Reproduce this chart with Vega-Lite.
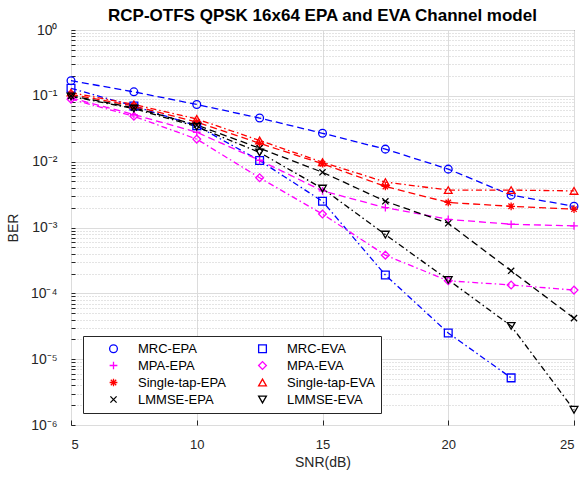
{
  "$schema": "https://vega.github.io/schema/vega-lite/v6.json",
  "autosize": "none",
  "width": 503,
  "height": 395,
  "padding": {"left": 71, "top": 30, "right": 7, "bottom": 52},
  "background": "white",
  "title": {
    "text": "RCP-OTFS QPSK 16x64 EPA and EVA Channel model",
    "font": "Liberation Sans",
    "fontSize": 17,
    "fontWeight": "bold",
    "color": "#000000",
    "anchor": "middle",
    "frame": "group",
    "offset": 7,
    "dy": 9
  },
  "data": {
    "values": [
      {"snr": 5, "ber": 0.17, "series": "MRC-EPA", "model": "EPA"},
      {"snr": 7.5, "ber": 0.115, "series": "MRC-EPA", "model": "EPA"},
      {"snr": 10, "ber": 0.074, "series": "MRC-EPA", "model": "EPA"},
      {"snr": 12.5, "ber": 0.046, "series": "MRC-EPA", "model": "EPA"},
      {"snr": 15, "ber": 0.027, "series": "MRC-EPA", "model": "EPA"},
      {"snr": 17.5, "ber": 0.0155, "series": "MRC-EPA", "model": "EPA"},
      {"snr": 20, "ber": 0.0077, "series": "MRC-EPA", "model": "EPA"},
      {"snr": 22.5, "ber": 0.0031, "series": "MRC-EPA", "model": "EPA"},
      {"snr": 25, "ber": 0.0021, "series": "MRC-EPA", "model": "EPA"},
      {"snr": 5, "ber": 0.13, "series": "MRC-EVA", "model": "EVA"},
      {"snr": 7.5, "ber": 0.07, "series": "MRC-EVA", "model": "EVA"},
      {"snr": 10, "ber": 0.035, "series": "MRC-EVA", "model": "EVA"},
      {"snr": 12.5, "ber": 0.0104, "series": "MRC-EVA", "model": "EVA"},
      {"snr": 15, "ber": 0.0025, "series": "MRC-EVA", "model": "EVA"},
      {"snr": 17.5, "ber": 0.00019, "series": "MRC-EVA", "model": "EVA"},
      {"snr": 20, "ber": 0.000025, "series": "MRC-EVA", "model": "EVA"},
      {"snr": 22.5, "ber": 0.0000052, "series": "MRC-EVA", "model": "EVA"},
      {"snr": 5, "ber": 0.093, "series": "MPA-EPA", "model": "EPA"},
      {"snr": 7.5, "ber": 0.052, "series": "MPA-EPA", "model": "EPA"},
      {"snr": 10, "ber": 0.028, "series": "MPA-EPA", "model": "EPA"},
      {"snr": 12.5, "ber": 0.0105, "series": "MPA-EPA", "model": "EPA"},
      {"snr": 15, "ber": 0.0036, "series": "MPA-EPA", "model": "EPA"},
      {"snr": 17.5, "ber": 0.002, "series": "MPA-EPA", "model": "EPA"},
      {"snr": 20, "ber": 0.00133, "series": "MPA-EPA", "model": "EPA"},
      {"snr": 22.5, "ber": 0.00112, "series": "MPA-EPA", "model": "EPA"},
      {"snr": 25, "ber": 0.00106, "series": "MPA-EPA", "model": "EPA"},
      {"snr": 5, "ber": 0.089, "series": "MPA-EVA", "model": "EVA"},
      {"snr": 7.5, "ber": 0.049, "series": "MPA-EVA", "model": "EVA"},
      {"snr": 10, "ber": 0.022, "series": "MPA-EVA", "model": "EVA"},
      {"snr": 12.5, "ber": 0.0057, "series": "MPA-EVA", "model": "EVA"},
      {"snr": 15, "ber": 0.0016, "series": "MPA-EVA", "model": "EVA"},
      {"snr": 17.5, "ber": 0.00038, "series": "MPA-EVA", "model": "EVA"},
      {"snr": 20, "ber": 0.000155, "series": "MPA-EVA", "model": "EVA"},
      {"snr": 22.5, "ber": 0.000134, "series": "MPA-EVA", "model": "EVA"},
      {"snr": 25, "ber": 0.000112, "series": "MPA-EVA", "model": "EVA"},
      {"snr": 5, "ber": 0.105, "series": "Single-tap-EPA", "model": "EPA"},
      {"snr": 7.5, "ber": 0.07, "series": "Single-tap-EPA", "model": "EPA"},
      {"snr": 10, "ber": 0.04, "series": "Single-tap-EPA", "model": "EPA"},
      {"snr": 12.5, "ber": 0.019, "series": "Single-tap-EPA", "model": "EPA"},
      {"snr": 15, "ber": 0.0093, "series": "Single-tap-EPA", "model": "EPA"},
      {"snr": 17.5, "ber": 0.0042, "series": "Single-tap-EPA", "model": "EPA"},
      {"snr": 20, "ber": 0.0024, "series": "Single-tap-EPA", "model": "EPA"},
      {"snr": 22.5, "ber": 0.0021, "series": "Single-tap-EPA", "model": "EPA"},
      {"snr": 25, "ber": 0.0019, "series": "Single-tap-EPA", "model": "EPA"},
      {"snr": 5, "ber": 0.112, "series": "Single-tap-EVA", "model": "EVA"},
      {"snr": 7.5, "ber": 0.074, "series": "Single-tap-EVA", "model": "EVA"},
      {"snr": 10, "ber": 0.0445, "series": "Single-tap-EVA", "model": "EVA"},
      {"snr": 12.5, "ber": 0.021, "series": "Single-tap-EVA", "model": "EVA"},
      {"snr": 15, "ber": 0.0098, "series": "Single-tap-EVA", "model": "EVA"},
      {"snr": 17.5, "ber": 0.0049, "series": "Single-tap-EVA", "model": "EVA"},
      {"snr": 20, "ber": 0.0037, "series": "Single-tap-EVA", "model": "EVA"},
      {"snr": 22.5, "ber": 0.0037, "series": "Single-tap-EVA", "model": "EVA"},
      {"snr": 25, "ber": 0.0036, "series": "Single-tap-EVA", "model": "EVA"},
      {"snr": 5, "ber": 0.1, "series": "LMMSE-EPA", "model": "EPA"},
      {"snr": 7.5, "ber": 0.066, "series": "LMMSE-EPA", "model": "EPA"},
      {"snr": 10, "ber": 0.036, "series": "LMMSE-EPA", "model": "EPA"},
      {"snr": 12.5, "ber": 0.016, "series": "LMMSE-EPA", "model": "EPA"},
      {"snr": 15, "ber": 0.0069, "series": "LMMSE-EPA", "model": "EPA"},
      {"snr": 17.5, "ber": 0.0025, "series": "LMMSE-EPA", "model": "EPA"},
      {"snr": 20, "ber": 0.00116, "series": "LMMSE-EPA", "model": "EPA"},
      {"snr": 22.5, "ber": 0.00022, "series": "LMMSE-EPA", "model": "EPA"},
      {"snr": 25, "ber": 0.000042, "series": "LMMSE-EPA", "model": "EPA"},
      {"snr": 5, "ber": 0.098, "series": "LMMSE-EVA", "model": "EVA"},
      {"snr": 7.5, "ber": 0.064, "series": "LMMSE-EVA", "model": "EVA"},
      {"snr": 10, "ber": 0.034, "series": "LMMSE-EVA", "model": "EVA"},
      {"snr": 12.5, "ber": 0.0138, "series": "LMMSE-EVA", "model": "EVA"},
      {"snr": 15, "ber": 0.0039, "series": "LMMSE-EVA", "model": "EVA"},
      {"snr": 17.5, "ber": 0.00078, "series": "LMMSE-EVA", "model": "EVA"},
      {"snr": 20, "ber": 0.00016, "series": "LMMSE-EVA", "model": "EVA"},
      {"snr": 22.5, "ber": 0.000032, "series": "LMMSE-EVA", "model": "EVA"},
      {"snr": 25, "ber": 0.0000017, "series": "LMMSE-EVA", "model": "EVA"}
    ]
  },
  "encoding": {
    "x": {
      "field": "snr",
      "type": "quantitative",
      "scale": {"domain": [5, 25], "nice": false, "zero": false},
      "axis": {
        "title": "SNR(dB)",
        "values": [5, 10, 15, 20, 25],
        "format": "d",
        "grid": true,
        "gridColor": "#dcdcdc",
        "gridWidth": 1,
        "domain": false,
        "tickColor": "#262626",
        "tickSize": -5,
        "labelPadding": 18,
        "labelFontSize": 13,
        "labelColor": "#262626",
        "labelFont": "Liberation Sans",
        "titleFont": "Liberation Sans",
        "titleFontSize": 14,
        "titleFontWeight": "normal",
        "titleColor": "#262626",
        "titlePadding": 4
      }
    },
    "y": {
      "field": "ber",
      "type": "quantitative",
      "scale": {"type": "log", "domain": [0.000001, 1], "nice": false},
      "axis": {
        "title": "BER",
        "values": [0.000001, 0.000002, 0.000003, 0.000004, 0.000005, 0.000006, 0.000007, 0.000008, 0.000009,
                   0.00001, 0.00002, 0.00003, 0.00004, 0.00005, 0.00006, 0.00007, 0.00008, 0.00009,
                   0.0001, 0.0002, 0.0003, 0.0004, 0.0005, 0.0006, 0.0007, 0.0008, 0.0009,
                   0.001, 0.002, 0.003, 0.004, 0.005, 0.006, 0.007, 0.008, 0.009,
                   0.01, 0.02, 0.03, 0.04, 0.05, 0.06, 0.07, 0.08, 0.09,
                   0.1, 0.2, 0.3, 0.4, 0.5, 0.6, 0.7, 0.8, 0.9, 1],
        "labelExpr": "abs(log(datum.value)/LN10 - round(log(datum.value)/LN10)) < 0.000001 ? '10' + ['⁰','⁻¹','⁻²','⁻³','⁻⁴','⁻⁵','⁻⁶'][-round(log(datum.value)/LN10)] : ''",
        "grid": true,
        "gridColor": {"condition": {"test": "abs(log(datum.value)/LN10 - round(log(datum.value)/LN10)) < 0.000001", "value": "#dcdcdc"}, "value": "#c8c8c8"},
        "gridDash": {"condition": {"test": "abs(log(datum.value)/LN10 - round(log(datum.value)/LN10)) < 0.000001", "value": []}, "value": [1, 2]},
        "tickSize": -4,
        "domain": false,
        "tickColor": "#262626",
        "labelOverlap": false,
        "labelBound": false,
        "labelFlush": false,
        "labelAlign": "right",
        "labelPadding": 18,
        "labelFontSize": 14,
        "labelColor": "#262626",
        "labelFont": "Liberation Sans",
        "titleFont": "Liberation Sans",
        "titleFontSize": 14,
        "titleFontWeight": "normal",
        "titleColor": "#262626",
        "titlePadding": 10
      }
    }
  },
  "layer": [
    {
      "mark": {"type": "line", "strokeWidth": 1.3},
      "encoding": {
        "color": {
          "field": "series",
          "type": "nominal",
          "title": null,
          "scale": {
            "domain": ["MRC-EPA", "MRC-EVA", "MPA-EPA", "MPA-EVA", "Single-tap-EPA", "Single-tap-EVA", "LMMSE-EPA", "LMMSE-EVA"],
            "range": ["#0000ff", "#0000ff", "#ff00ff", "#ff00ff", "#ff0000", "#ff0000", "#000000", "#000000"]
          }
        },
        "strokeDash": {
          "field": "model",
          "type": "nominal",
          "scale": {
            "domain": ["EPA", "EVA"],
            "range": [[7, 4], [6, 3, 1.5, 3]]
          },
          "legend": null
        },
        "detail": {"field": "series"}
      }
    },
    {
      "mark": {"type": "point", "filled": false, "strokeWidth": 1.3, "size": 60, "opacity": 1},
      "encoding": {
        "color": {
          "field": "series",
          "type": "nominal",
          "title": null
        },
        "shape": {
          "field": "series",
          "type": "nominal",
          "title": null,
          "scale": {
            "domain": ["MRC-EPA", "MRC-EVA", "MPA-EPA", "MPA-EVA", "Single-tap-EPA", "Single-tap-EVA", "LMMSE-EPA", "LMMSE-EVA"],
            "range": ["circle", "square", "M-1,0L1,0M0,-1L0,1", "diamond", "M-1,0L1,0M0,-1L0,1M-0.7,-0.7L0.7,0.7M-0.7,0.7L0.7,-0.7", "triangle-up", "M-0.8,-0.8L0.8,0.8M-0.8,0.8L0.8,-0.8", "triangle-down"]
          }
        }
      }
    }
  ],
  "config": {
    "font": "Liberation Sans",
    "view": {"stroke": "#262626", "strokeWidth": 1},
    "legend": {
      "orient": "bottom-left",
      "offset": 12,
      "columns": 2,
      "direction": "horizontal",
      "fillColor": "white",
      "strokeColor": "#262626",
      "padding": 6,
      "rowPadding": 3,
      "columnPadding": 12,
      "symbolOffset": 18,
      "labelOffset": 18,
      "labelFontSize": 13,
      "labelFont": "Liberation Sans",
      "labelColor": "#000000",
      "symbolSize": 60,
      "symbolStrokeWidth": 1.3,
      "symbolFillColor": "transparent",
      "labelLimit": 200
    }
  },
  "resolve": {"legend": {"color": "shared", "shape": "shared"}}
}
